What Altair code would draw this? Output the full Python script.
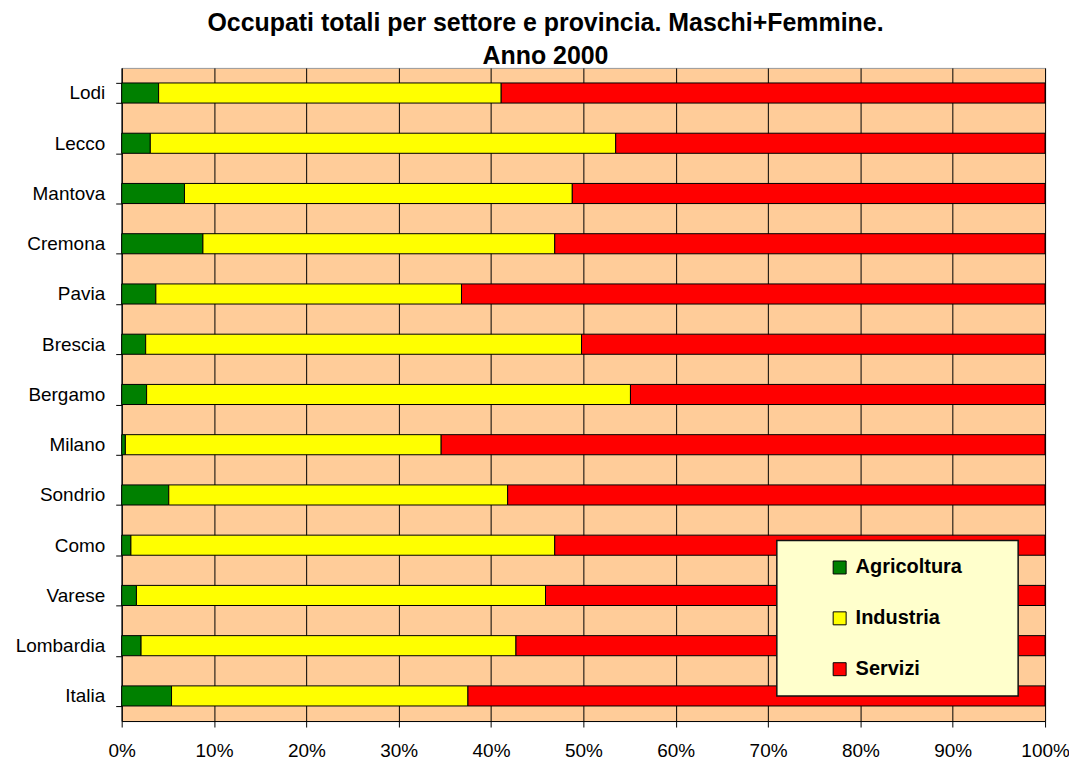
import altair as alt
import pandas as pd

provinces = ["Lodi", "Lecco", "Mantova", "Cremona", "Pavia", "Brescia", "Bergamo",
             "Milano", "Sondrio", "Como", "Varese", "Lombardia", "Italia"]
agricoltura = [4.0, 3.1, 6.8, 8.8, 3.7, 2.6, 2.7, 0.4, 5.1, 1.0, 1.6, 2.1, 5.4]
industria = [37.1, 50.4, 42.0, 38.1, 33.1, 47.2, 52.4, 34.2, 36.7, 45.9, 44.3, 40.6, 32.1]
servizi = [58.9, 46.5, 51.2, 53.1, 63.2, 50.2, 44.9, 65.4, 58.2, 53.1, 54.1, 57.3, 62.5]
sectors = ["Agricoltura", "Industria", "Servizi"]
colors = ["#008000", "#FFFF00", "#FF0000"]

rows = []
for i, p in enumerate(provinces):
    for k, (s, v) in enumerate(zip(sectors, [agricoltura[i], industria[i], servizi[i]])):
        rows.append({"Provincia": p, "Settore": s, "Valore": v, "ord": k})
df = pd.DataFrame(rows)

FONT = "Liberation Sans, Arial, sans-serif"

chart = alt.Chart(df).mark_bar(stroke="black", strokeWidth=1).encode(
    y=alt.Y("Provincia:N", sort=provinces,
            scale=alt.Scale(paddingInner=0.6, paddingOuter=0.3),
            axis=alt.Axis(title=None, labelFontSize=19, labelFont=FONT, labelColor="black",
                          tickBand="extent", tickSize=6, tickColor="black",
                          domainColor="black", labelPadding=11, grid=False)),
    x=alt.X("Valore:Q", stack="normalize",
            scale=alt.Scale(domain=[0, 1], nice=False),
            axis=alt.Axis(title=None, format=".0%", values=[i / 10 for i in range(11)],
                          labelFontSize=19, labelFont=FONT, labelColor="black",
                          tickSize=6, tickColor="black", domainColor="black",
                          labelPadding=15, grid=True, gridColor="black",
                          gridOpacity=1, gridWidth=1, labelFlush=False)),
    color=alt.Color("Settore:N", sort=sectors,
                    scale=alt.Scale(domain=sectors, range=colors),
                    legend=alt.Legend(title="\u00a0", titleOrient="right", titlePadding=39,
                                      titleFontSize=10,
                                      orient="none", legendX=657, legendY=474,
                                      padding=17, fillColor="#FFFFCC", strokeColor="#111111",
                                      symbolType="square", symbolSize=169,
                                      symbolStrokeColor="black", symbolStrokeWidth=1,
                                      symbolOffset=36, labelFontSize=20, labelFont=FONT,
                                      labelFontWeight="bold", labelColor="black",
                                      labelOffset=6, rowPadding=31)),
    order=alt.Order("ord:Q", sort="ascending"),
).properties(
    width=926,
    height=655,
    background="white",
    title=alt.TitleParams(
        text=["Occupati totali per settore e provincia. Maschi+Femmine.", "Anno 2000"],
        fontSize=25, font=FONT, fontWeight="bold", color="black",
        anchor="middle", dx=-38, dy=33, offset=3, baseline="alphabetic", lineHeight=33),
    autosize=alt.AutoSizeParams(type="none"),
    padding={"left": 114, "top": 59, "right": 24, "bottom": 38},
).configure_view(
    fill="#FFCC99", stroke="#999999", strokeWidth=1
).configure_legend(
    strokeWidth=1.5
)

chart.save("out.html", embed_options={"renderer": "svg", "actions": False})
